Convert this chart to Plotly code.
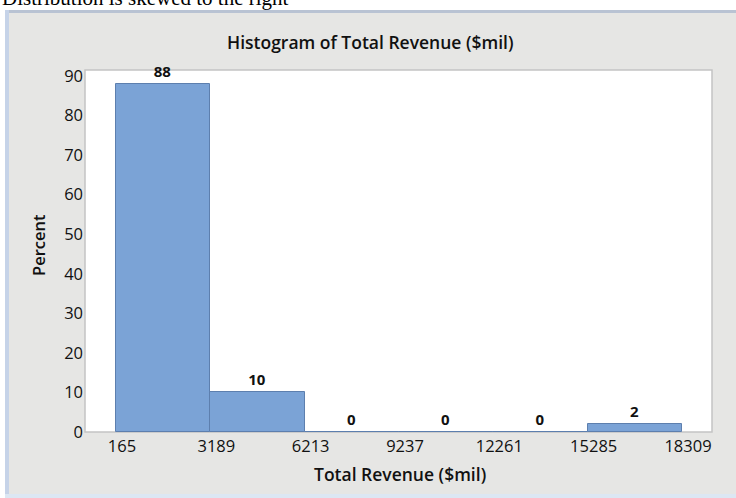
import plotly.graph_objects as go

# histogram of total revenue, percent per bin
bin_edges = [165, 3189, 6213, 9237, 12261, 15285, 18309]
percent = [88, 10, 0, 0, 0, 2]
tick_labels = ['165', '3189', '6213', '9237', '12261', '15285', '18309']

# plot area in pixels (736x498 page)
L, R, T, B = 85, 712, 70, 432
W, H = 736, 498


def px(x):
    return (x - L) / (R - L)


def py(y):
    return (B - y) / (B - T)


centers = [(bin_edges[i] + bin_edges[i + 1]) / 2 for i in range(len(percent))]
widths = [bin_edges[i + 1] - bin_edges[i] for i in range(len(percent))]

fig = go.Figure()
fig.add_trace(go.Bar(
    x=centers, y=percent, width=widths,
    marker=dict(color='#7BA3D6', line=dict(color='#5D7FAE', width=1)),
    text=[str(v) for v in percent], textposition='outside',
    textfont=dict(family='Open Sans', size=15, color='#111111', weight='bold'),
    cliponaxis=False, showlegend=False, hoverinfo='skip'))

shapes = [
    # gray panel
    dict(type='rect', xref='paper', yref='paper', x0=px(5), x1=px(W + 2), y0=py(W), y1=py(10),
         fillcolor='#E6E6E4', line=dict(width=0), layer='below'),
    # top border of panel
    dict(type='rect', xref='paper', yref='paper', x0=px(5), x1=px(W + 2), y0=py(13), y1=py(10),
         fillcolor='#B9C3D3', line=dict(width=0), layer='below'),
    # left blue strip
    dict(type='rect', xref='paper', yref='paper', x0=px(5), x1=px(9), y0=py(W), y1=py(10),
         fillcolor='#C6D3E8', line=dict(width=0), layer='below'),
    # bottom blue strip
    dict(type='rect', xref='paper', yref='paper', x0=px(5), x1=px(W + 2), y0=py(W), y1=py(494),
         fillcolor='#DCE7F3', line=dict(width=0), layer='below'),
    # plot area
    dict(type='rect', xref='paper', yref='paper', x0=0, x1=1, y0=0, y1=1,
         fillcolor='white', line=dict(color='#C4C4C4', width=1.5), layer='below'),
]

annotations = [
    dict(text='Distribution is skewed to the right', xref='paper', yref='paper',
         x=px(0), y=py(12), xanchor='left', yanchor='bottom', showarrow=False,
         font=dict(family='Liberation Serif', size=21, color='black')),
    dict(text='Histogram of Total Revenue ($mil)', xref='paper', yref='paper',
         x=px(370), y=py(42), xanchor='center', yanchor='middle', showarrow=False,
         font=dict(family='Open Sans', size=17.5, color='#111111', weight=600)),
    dict(text='Total Revenue ($mil)', xref='paper', yref='paper',
         x=px(400), y=py(474), xanchor='center', yanchor='middle', showarrow=False,
         font=dict(family='Open Sans', size=17.5, color='#111111', weight=600)),
    dict(text='Percent', xref='paper', yref='paper', textangle=-90,
         x=px(38), y=py(245), xanchor='center', yanchor='middle', showarrow=False,
         font=dict(family='Open Sans', size=16.5, color='#111111', weight=600)),
]

fig.update_layout(
    width=W, height=H,
    margin=dict(l=L, r=W - R, t=T, b=H - B),
    paper_bgcolor='white', plot_bgcolor='rgba(0,0,0,0)',
    shapes=shapes, annotations=annotations,
    bargap=0,
)
fig.update_xaxes(range=[-829, 19271], tickvals=bin_edges, ticktext=tick_labels,
                 showgrid=False, zeroline=False, showline=False, ticks='',
                 ticklabelstandoff=2, ticklabelshift=6,
                 tickfont=dict(family='Open Sans', size=16.5, color='#111111', weight=500))
fig.update_yaxes(range=[0, 91.5], tickvals=list(range(0, 91, 10)),
                 showgrid=False, zeroline=False, showline=False, ticks='',
                 ticklabelstandoff=1,
                 tickfont=dict(family='Open Sans', size=16.5, color='#111111', weight=500))

# drop the default body margin so the figure sits at the page corner
fig.write_html("out.html", config={'displayModeBar': False},
               post_script="document.body.style.margin='0';")
